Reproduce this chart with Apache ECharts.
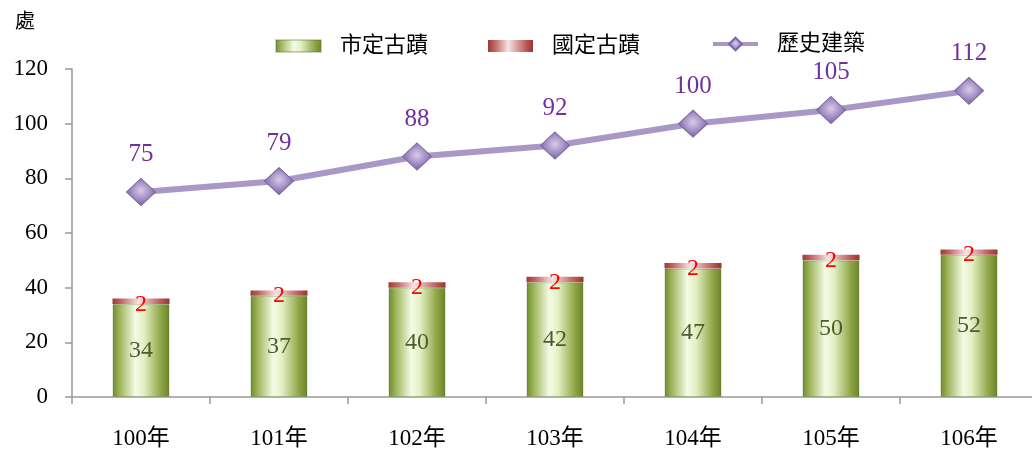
<!DOCTYPE html>
<html><head><meta charset="utf-8">
<script src="https://cdn.jsdelivr.net/npm/echarts@6/dist/echarts.min.js"></script>
<style>html,body{margin:0;padding:0;background:#fff;overflow:hidden;width:1032px;height:453px}#c{width:1044px;height:453px}</style>
</head><body><div id="c"></div>
<script>
const categories = ['100年','101年','102年','103年','104年','105年','106年'];
const cityMonuments = [34, 37, 40, 42, 47, 50, 52];
const nationalMonuments = [2, 2, 2, 2, 2, 2, 2];
const historicBuildings = [75, 79, 88, 92, 100, 105, 112];
const yTicks = [0, 20, 40, 60, 80, 100, 120];

const FONT = '"Liberation Serif", "Noto Sans CJK TC", serif';
const greenGrad = new echarts.graphic.LinearGradient(0,0,1,0,[
  {offset:0,color:'#6f8a2e'},{offset:0.12,color:'#9cb358'},{offset:0.4,color:'#f4fbe6'},
  {offset:0.55,color:'#e4f0c4'},{offset:0.85,color:'#8ea545'},{offset:1,color:'#6a8428'}]);
const redGrad = new echarts.graphic.LinearGradient(0,0,1,0,[
  {offset:0,color:'#9c3a36'},{offset:0.15,color:'#c06660'},{offset:0.45,color:'#f6e4e2'},
  {offset:0.85,color:'#b85a55'},{offset:1,color:'#963430'}]);
const diamondGrad = new echarts.graphic.RadialGradient(0.5,0.45,0.6,[
  {offset:0,color:'#d8cce8'},{offset:0.6,color:'#9a84bf'},{offset:1,color:'#6f5a96'}]);

const legendCommon = {
  top:30, itemWidth:45, itemHeight:12, itemGap:0,
  textStyle:{fontSize:22, color:'#000', fontFamily:FONT, padding:[0,0,0,14]}
};

const chart = echarts.init(document.getElementById('c'));
chart.setOption({
  animation:false,
  textStyle:{fontFamily:FONT},
  legend:[
    Object.assign({left:270, data:[{name:'市定古蹟', icon:'rect', itemStyle:{color:greenGrad}}]}, legendCommon),
    Object.assign({left:483, data:[{name:'國定古蹟', icon:'rect', itemStyle:{color:redGrad}}]}, legendCommon),
    Object.assign({}, legendCommon, {left:706, top:28, itemHeight:16,
      data:[{name:'歷史建築', lineStyle:{width:4, color:'#a898c6'}}]})
  ],
  grid:{left:72, top:69, width:966, height:328},
  xAxis:{
    type:'category', data:categories,
    axisLine:{lineStyle:{color:'#999', width:1.5}},
    axisTick:{show:true, length:7, lineStyle:{color:'#999', width:1.5}},
    axisLabel:{fontSize:23, color:'#000', margin:30, fontFamily:FONT}
  },
  yAxis:{
    type:'value', min:0, max:120, interval:20,
    name:'處', nameLocation:'end', nameGap:36,
    nameTextStyle:{fontSize:20, color:'#000', align:'right', padding:[0,37,0,0]},
    axisLine:{show:true, lineStyle:{color:'#999', width:1.5}},
    axisTick:{show:true, length:7, lineStyle:{color:'#999', width:1.5}},
    splitLine:{show:false},
    axisLabel:{fontSize:23, color:'#000', margin:24, fontFamily:FONT,
      formatter:v => yTicks.includes(v) ? String(v) : ''}
  },
  series:[
    {name:'市定古蹟', type:'bar', stack:'m', data:cityMonuments, barWidth:57,
      itemStyle:{color:greenGrad, borderColor:'rgba(90,110,40,0.3)', borderWidth:1},
      label:{show:true, position:'inside', fontSize:24, color:'#4e5c2b', fontFamily:FONT}},
    {name:'國定古蹟', type:'bar', stack:'m', data:nationalMonuments, barWidth:57,
      itemStyle:{color:redGrad},
      label:{show:true, position:'inside', offset:[0,3], fontSize:24, color:'#ff0000', fontFamily:FONT}},
    {name:'歷史建築', type:'line', data:historicBuildings,
      lineStyle:{color:'#a898c6', width:6},
      itemStyle:{color:diamondGrad, borderColor:'#7a66a0', borderWidth:1},
      symbol:'diamond', symbolSize:[29,27],
      label:{show:true, position:'top', distance:11, fontSize:25, color:'#7030a0', fontFamily:FONT}}
  ]
});
</script></body></html>
